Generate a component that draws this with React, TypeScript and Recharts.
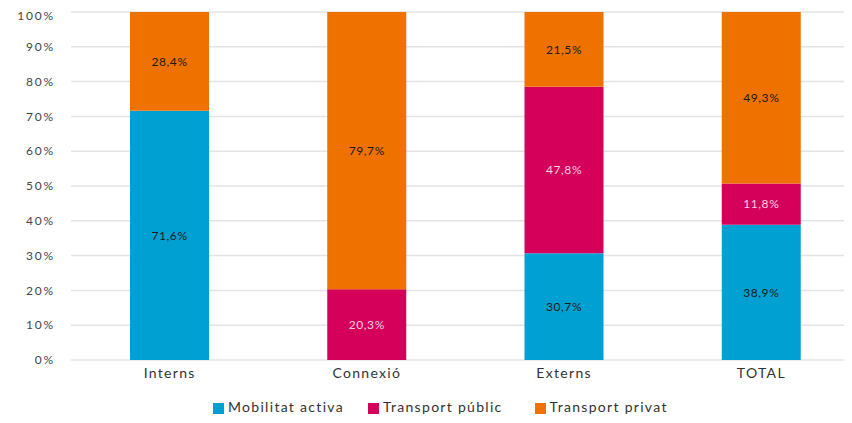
import { Bar, BarChart, CartesianGrid, LabelList, Legend, XAxis, YAxis } from "recharts"

const categories = ["Interns", "Connexió", "Externs", "TOTAL"]
const mobilitatActiva = [71.6, null, 30.7, 38.9]
const transportPublic = [null, 20.3, 47.8, 11.8]
const transportPrivat = [28.4, 79.7, 21.5, 49.3]
const yTicks = [0, 10, 20, 30, 40, 50, 60, 70, 80, 90, 100]
const seriesOrder = ["Mobilitat activa", "Transport públic", "Transport privat"]

const data = categories.map((name, i) => ({
  name,
  activa: mobilitatActiva[i],
  public: transportPublic[i],
  privat: transportPrivat[i],
}))

const fmt = (v: any) => (v == null ? "" : `${String(v).replace(".", ",")}%`)
const font = "Lato, 'Noto Sans', sans-serif"

export default function App() {
  return (
    <div style={{ width: 844, height: 407, overflow: "hidden", fontFamily: font }}>
      <BarChart width={852} height={407} data={data} margin={{ top: 4, right: 0, left: 8, bottom: 9 }}>
        <CartesianGrid vertical={false} stroke="#e4e4e4" strokeWidth={1.5} />
        <XAxis
          dataKey="name"
          axisLine={false}
          tickLine={false}
          height={30}
          tick={{ fill: "#333", fontSize: 14, fontFamily: font, letterSpacing: 1.3 }}
        />
        <YAxis
          domain={[0, 100]}
          ticks={yTicks}
          width={55}
          axisLine={false}
          tickLine={false}
          tickMargin={10}
          tickFormatter={(v) => `${v}%`}
          tick={{ fill: "#444", fontSize: 12, fontFamily: font, letterSpacing: 1.8 }}
        />
        <Legend
          iconType="square"
          iconSize={11}
          itemSorter={(item: any) => seriesOrder.indexOf(item.value)}
          wrapperStyle={{ fontSize: 14, lineHeight: "16px", fontFamily: font, left: 205, width: "auto", bottom: 0 }}
          formatter={(value: any, _e: any, i: number) => (
            <span style={{ color: "#333", letterSpacing: 1.3, paddingRight: i === 0 ? 14 : i === 1 ? 22 : 0 }}>{value}</span>
          )}
        />
        <Bar dataKey="activa" name="Mobilitat activa" stackId="a" fill="#00a0d2" barSize={79} isAnimationActive={false}>
          <LabelList dataKey="activa" position="center" formatter={fmt} fill="#1a1a1a" fontSize={12} fontFamily={font} letterSpacing={0.6} />
        </Bar>
        <Bar dataKey="public" name="Transport públic" stackId="a" fill="#d4005a" barSize={79} isAnimationActive={false}>
          <LabelList dataKey="public" position="center" formatter={fmt} fill="#f6d0e0" fontSize={12} fontFamily={font} letterSpacing={0.6} />
        </Bar>
        <Bar dataKey="privat" name="Transport privat" stackId="a" fill="#ef7200" barSize={79} isAnimationActive={false}>
          <LabelList dataKey="privat" position="center" formatter={fmt} fill="#1a1a1a" fontSize={12} fontFamily={font} letterSpacing={0.6} />
        </Bar>
      </BarChart>
    </div>
  )
}
